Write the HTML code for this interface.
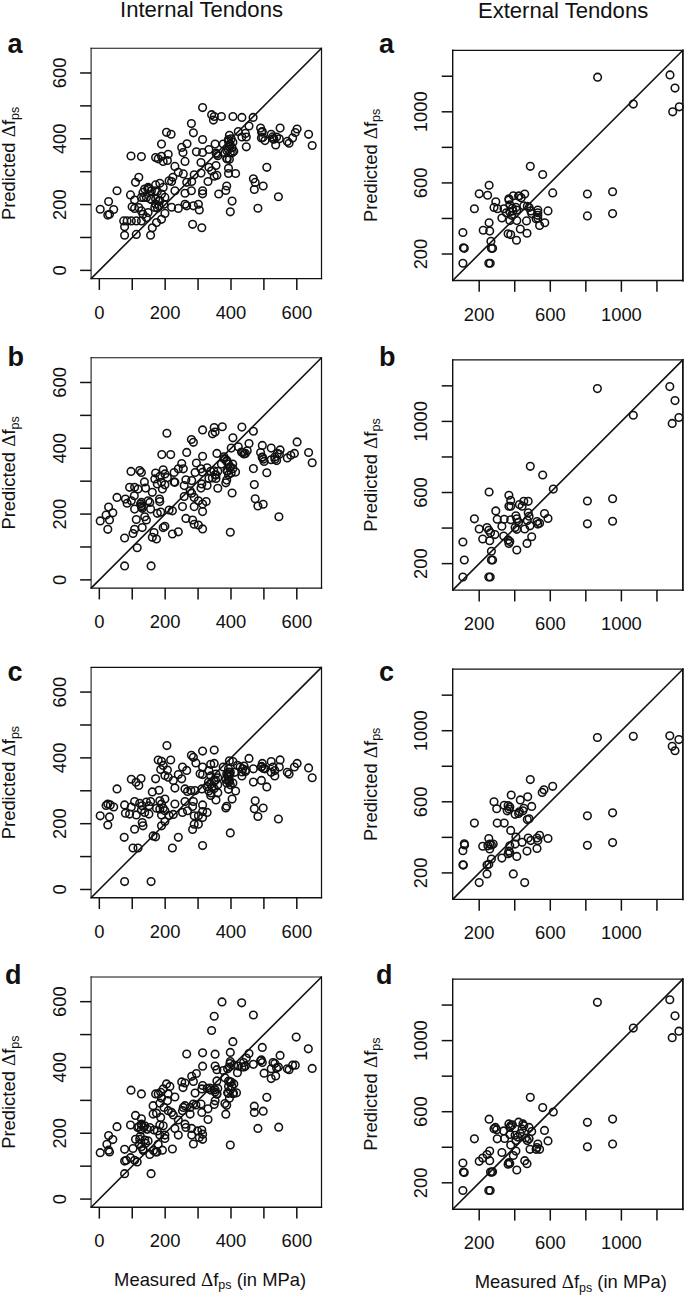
<!DOCTYPE html>
<html><head><meta charset="utf-8"><style>
html,body{margin:0;padding:0;background:#fff;}
body{width:685px;height:1296px;overflow:hidden;}
svg{display:block;}
text{font-family:"Liberation Sans", sans-serif;fill:#111;}
.tl{font-size:18.4px;}
.al{font-size:18.4px;}
.sub{font-size:12.5px;}
.dl{font-family:"Liberation Serif",serif;font-size:19px;}
.ttl{font-size:22.1px;}
.let{font-size:27px;font-weight:bold;}
circle{fill:none;stroke:#111;stroke-width:1.55;}
</style></head><body>
<svg width="685" height="1296" viewBox="0 0 685 1296">
<text x="120.0" y="17.1" class="ttl">Internal Tendons</text>
<text x="477.9" y="18.1" class="ttl">External Tendons</text>
<path d="M91.10,48.30H321.50" stroke="#111" stroke-width="1.1" stroke-linecap="square"/>
<path d="M91.10,278.60H321.50" stroke="#111" stroke-width="1.4" stroke-linecap="square"/>
<path d="M91.10,48.30V278.60" stroke="#111" stroke-width="1.05" stroke-linecap="square"/>
<path d="M321.50,48.30V278.60" stroke="#111" stroke-width="1.25" stroke-linecap="square"/>
<line x1="91.10" y1="278.60" x2="321.50" y2="48.30" stroke="#111" stroke-width="1.6"/>
<line x1="99.33" y1="278.60" x2="99.33" y2="289.90" stroke="#111" stroke-width="1.5"/>
<line x1="132.24" y1="278.60" x2="132.24" y2="289.90" stroke="#111" stroke-width="1.5"/>
<line x1="165.16" y1="278.60" x2="165.16" y2="289.90" stroke="#111" stroke-width="1.5"/>
<line x1="198.07" y1="278.60" x2="198.07" y2="289.90" stroke="#111" stroke-width="1.5"/>
<line x1="230.99" y1="278.60" x2="230.99" y2="289.90" stroke="#111" stroke-width="1.5"/>
<line x1="263.90" y1="278.60" x2="263.90" y2="289.90" stroke="#111" stroke-width="1.5"/>
<line x1="296.81" y1="278.60" x2="296.81" y2="289.90" stroke="#111" stroke-width="1.5"/>
<text x="99.33" y="318.60" text-anchor="middle" class="tl">0</text>
<text x="165.16" y="318.60" text-anchor="middle" class="tl">200</text>
<text x="230.99" y="318.60" text-anchor="middle" class="tl">400</text>
<text x="296.81" y="318.60" text-anchor="middle" class="tl">600</text>
<line x1="80.10" y1="270.38" x2="91.10" y2="270.38" stroke="#111" stroke-width="1.5"/>
<line x1="80.10" y1="237.48" x2="91.10" y2="237.48" stroke="#111" stroke-width="1.5"/>
<line x1="80.10" y1="204.58" x2="91.10" y2="204.58" stroke="#111" stroke-width="1.5"/>
<line x1="80.10" y1="171.68" x2="91.10" y2="171.68" stroke="#111" stroke-width="1.5"/>
<line x1="80.10" y1="138.78" x2="91.10" y2="138.78" stroke="#111" stroke-width="1.5"/>
<line x1="80.10" y1="105.88" x2="91.10" y2="105.88" stroke="#111" stroke-width="1.5"/>
<line x1="80.10" y1="72.98" x2="91.10" y2="72.98" stroke="#111" stroke-width="1.5"/>
<text transform="translate(66.00,270.38) rotate(-90)" text-anchor="middle" class="tl">0</text>
<text transform="translate(66.00,204.58) rotate(-90)" text-anchor="middle" class="tl">200</text>
<text transform="translate(66.00,138.78) rotate(-90)" text-anchor="middle" class="tl">400</text>
<text transform="translate(66.00,72.98) rotate(-90)" text-anchor="middle" class="tl">600</text>
<text transform="translate(15.10,163.45) rotate(-90)" text-anchor="middle" class="al">Predicted <tspan class="dl">Δ</tspan>f<tspan class="sub" dy="3.7">ps</tspan></text>
<circle cx="202.6" cy="107.6" r="3.8"/>
<circle cx="191.4" cy="123.6" r="3.8"/>
<circle cx="193.4" cy="132.8" r="3.8"/>
<circle cx="166.5" cy="132.3" r="3.8"/>
<circle cx="171.1" cy="134.2" r="3.8"/>
<circle cx="202.6" cy="139.5" r="3.8"/>
<circle cx="161.5" cy="144.1" r="3.8"/>
<circle cx="187.0" cy="143.7" r="3.8"/>
<circle cx="181.7" cy="147.4" r="3.8"/>
<circle cx="183.0" cy="152.5" r="3.8"/>
<circle cx="196.4" cy="151.8" r="3.8"/>
<circle cx="202.6" cy="152.5" r="3.8"/>
<circle cx="131.0" cy="156.0" r="3.8"/>
<circle cx="141.4" cy="156.6" r="3.8"/>
<circle cx="155.6" cy="157.5" r="3.8"/>
<circle cx="158.2" cy="158.8" r="3.8"/>
<circle cx="161.5" cy="156.3" r="3.8"/>
<circle cx="168.2" cy="154.3" r="3.8"/>
<circle cx="163.2" cy="161.4" r="3.8"/>
<circle cx="167.4" cy="160.5" r="3.8"/>
<circle cx="185.0" cy="161.4" r="3.8"/>
<circle cx="201.0" cy="162.5" r="3.8"/>
<circle cx="174.9" cy="166.4" r="3.8"/>
<circle cx="178.3" cy="172.3" r="3.8"/>
<circle cx="183.3" cy="173.9" r="3.8"/>
<circle cx="194.2" cy="174.8" r="3.8"/>
<circle cx="201.0" cy="173.1" r="3.8"/>
<circle cx="138.8" cy="177.3" r="3.8"/>
<circle cx="135.5" cy="182.3" r="3.8"/>
<circle cx="169.1" cy="180.7" r="3.8"/>
<circle cx="172.9" cy="177.3" r="3.8"/>
<circle cx="171.6" cy="181.5" r="3.8"/>
<circle cx="186.7" cy="182.3" r="3.8"/>
<circle cx="191.7" cy="181.5" r="3.8"/>
<circle cx="117.0" cy="190.7" r="3.8"/>
<circle cx="130.5" cy="194.9" r="3.8"/>
<circle cx="134.6" cy="200.0" r="3.8"/>
<circle cx="144.7" cy="189.1" r="3.8"/>
<circle cx="148.1" cy="187.4" r="3.8"/>
<circle cx="143.0" cy="192.4" r="3.8"/>
<circle cx="155.6" cy="184.9" r="3.8"/>
<circle cx="159.8" cy="183.2" r="3.8"/>
<circle cx="163.2" cy="187.4" r="3.8"/>
<circle cx="151.4" cy="190.7" r="3.8"/>
<circle cx="157.3" cy="191.6" r="3.8"/>
<circle cx="161.5" cy="194.1" r="3.8"/>
<circle cx="150.6" cy="199.1" r="3.8"/>
<circle cx="155.6" cy="199.1" r="3.8"/>
<circle cx="159.8" cy="200.8" r="3.8"/>
<circle cx="164.9" cy="197.4" r="3.8"/>
<circle cx="141.4" cy="197.4" r="3.8"/>
<circle cx="146.4" cy="197.4" r="3.8"/>
<circle cx="174.9" cy="190.7" r="3.8"/>
<circle cx="185.0" cy="193.2" r="3.8"/>
<circle cx="191.4" cy="190.7" r="3.8"/>
<circle cx="202.6" cy="190.7" r="3.8"/>
<circle cx="202.6" cy="193.8" r="3.8"/>
<circle cx="108.6" cy="201.6" r="3.8"/>
<circle cx="100.2" cy="209.2" r="3.8"/>
<circle cx="113.7" cy="209.5" r="3.8"/>
<circle cx="107.8" cy="215.1" r="3.8"/>
<circle cx="109.5" cy="214.2" r="3.8"/>
<circle cx="132.1" cy="206.7" r="3.8"/>
<circle cx="134.6" cy="208.4" r="3.8"/>
<circle cx="138.8" cy="207.5" r="3.8"/>
<circle cx="141.4" cy="210.9" r="3.8"/>
<circle cx="143.0" cy="214.2" r="3.8"/>
<circle cx="148.1" cy="212.6" r="3.8"/>
<circle cx="146.4" cy="217.6" r="3.8"/>
<circle cx="154.8" cy="207.5" r="3.8"/>
<circle cx="159.0" cy="205.8" r="3.8"/>
<circle cx="164.0" cy="204.2" r="3.8"/>
<circle cx="171.6" cy="207.2" r="3.8"/>
<circle cx="178.3" cy="208.4" r="3.8"/>
<circle cx="185.0" cy="204.2" r="3.8"/>
<circle cx="186.7" cy="205.8" r="3.8"/>
<circle cx="193.4" cy="205.8" r="3.8"/>
<circle cx="198.4" cy="204.2" r="3.8"/>
<circle cx="199.3" cy="210.0" r="3.8"/>
<circle cx="123.7" cy="220.9" r="3.8"/>
<circle cx="127.1" cy="220.9" r="3.8"/>
<circle cx="131.3" cy="220.9" r="3.8"/>
<circle cx="136.3" cy="220.9" r="3.8"/>
<circle cx="141.4" cy="220.9" r="3.8"/>
<circle cx="124.6" cy="226.8" r="3.8"/>
<circle cx="164.9" cy="213.4" r="3.8"/>
<circle cx="161.5" cy="219.3" r="3.8"/>
<circle cx="156.5" cy="222.6" r="3.8"/>
<circle cx="152.3" cy="227.7" r="3.8"/>
<circle cx="124.6" cy="235.2" r="3.8"/>
<circle cx="136.3" cy="234.4" r="3.8"/>
<circle cx="150.6" cy="235.2" r="3.8"/>
<circle cx="192.6" cy="224.3" r="3.8"/>
<circle cx="201.8" cy="227.7" r="3.8"/>
<circle cx="211.6" cy="114.7" r="3.8"/>
<circle cx="214.2" cy="116.5" r="3.8"/>
<circle cx="213.4" cy="120.1" r="3.8"/>
<circle cx="221.4" cy="116.5" r="3.8"/>
<circle cx="232.9" cy="116.5" r="3.8"/>
<circle cx="241.9" cy="117.4" r="3.8"/>
<circle cx="253.1" cy="117.4" r="3.8"/>
<circle cx="249.0" cy="126.0" r="3.8"/>
<circle cx="238.3" cy="131.6" r="3.8"/>
<circle cx="245.4" cy="133.4" r="3.8"/>
<circle cx="241.9" cy="137.0" r="3.8"/>
<circle cx="246.3" cy="137.0" r="3.8"/>
<circle cx="229.4" cy="135.2" r="3.8"/>
<circle cx="231.2" cy="138.8" r="3.8"/>
<circle cx="228.5" cy="141.4" r="3.8"/>
<circle cx="232.9" cy="142.3" r="3.8"/>
<circle cx="229.4" cy="145.9" r="3.8"/>
<circle cx="232.1" cy="147.7" r="3.8"/>
<circle cx="226.7" cy="150.4" r="3.8"/>
<circle cx="233.8" cy="151.2" r="3.8"/>
<circle cx="230.3" cy="153.0" r="3.8"/>
<circle cx="224.9" cy="153.0" r="3.8"/>
<circle cx="226.7" cy="158.4" r="3.8"/>
<circle cx="229.4" cy="159.3" r="3.8"/>
<circle cx="223.2" cy="144.1" r="3.8"/>
<circle cx="215.1" cy="144.1" r="3.8"/>
<circle cx="208.9" cy="149.5" r="3.8"/>
<circle cx="216.0" cy="153.0" r="3.8"/>
<circle cx="217.8" cy="155.7" r="3.8"/>
<circle cx="246.3" cy="146.8" r="3.8"/>
<circle cx="260.6" cy="128.1" r="3.8"/>
<circle cx="262.3" cy="131.6" r="3.8"/>
<circle cx="261.4" cy="137.9" r="3.8"/>
<circle cx="265.0" cy="140.6" r="3.8"/>
<circle cx="271.2" cy="134.3" r="3.8"/>
<circle cx="273.0" cy="138.8" r="3.8"/>
<circle cx="276.6" cy="137.0" r="3.8"/>
<circle cx="279.3" cy="138.8" r="3.8"/>
<circle cx="275.7" cy="145.0" r="3.8"/>
<circle cx="280.1" cy="128.1" r="3.8"/>
<circle cx="287.3" cy="141.4" r="3.8"/>
<circle cx="289.1" cy="143.2" r="3.8"/>
<circle cx="292.6" cy="137.9" r="3.8"/>
<circle cx="295.3" cy="132.5" r="3.8"/>
<circle cx="297.1" cy="129.0" r="3.8"/>
<circle cx="308.6" cy="134.3" r="3.8"/>
<circle cx="312.2" cy="145.5" r="3.8"/>
<circle cx="266.8" cy="167.3" r="3.8"/>
<circle cx="228.5" cy="168.2" r="3.8"/>
<circle cx="228.5" cy="173.5" r="3.8"/>
<circle cx="235.6" cy="173.5" r="3.8"/>
<circle cx="216.0" cy="165.5" r="3.8"/>
<circle cx="208.9" cy="167.3" r="3.8"/>
<circle cx="211.6" cy="170.8" r="3.8"/>
<circle cx="216.9" cy="175.3" r="3.8"/>
<circle cx="214.2" cy="176.2" r="3.8"/>
<circle cx="208.0" cy="181.5" r="3.8"/>
<circle cx="253.4" cy="178.8" r="3.8"/>
<circle cx="255.2" cy="182.4" r="3.8"/>
<circle cx="263.2" cy="186.0" r="3.8"/>
<circle cx="254.3" cy="189.5" r="3.8"/>
<circle cx="226.7" cy="186.0" r="3.8"/>
<circle cx="225.8" cy="190.4" r="3.8"/>
<circle cx="218.7" cy="194.0" r="3.8"/>
<circle cx="232.1" cy="201.1" r="3.8"/>
<circle cx="278.4" cy="196.7" r="3.8"/>
<circle cx="257.9" cy="208.2" r="3.8"/>
<circle cx="230.3" cy="211.8" r="3.8"/>
<circle cx="147.8" cy="188.7" r="3.8"/>
<circle cx="149.3" cy="188.4" r="3.8"/>
<circle cx="151.3" cy="199.4" r="3.8"/>
<circle cx="155.4" cy="190.7" r="3.8"/>
<circle cx="159.5" cy="200.4" r="3.8"/>
<circle cx="155.4" cy="204.0" r="3.8"/>
<circle cx="143.7" cy="197.4" r="3.8"/>
<circle cx="157.5" cy="208.1" r="3.8"/>
<circle cx="228.4" cy="139.6" r="3.8"/>
<circle cx="230.1" cy="144.3" r="3.8"/>
<circle cx="228.4" cy="149.5" r="3.8"/>
<circle cx="232.4" cy="152.4" r="3.8"/>
<circle cx="216.7" cy="154.2" r="3.8"/>
<circle cx="227.2" cy="158.9" r="3.8"/>
<circle cx="261.6" cy="132.2" r="3.8"/>
<circle cx="262.8" cy="137.4" r="3.8"/>
<circle cx="273.9" cy="139.2" r="3.8"/>
<circle cx="272.7" cy="136.9" r="3.8"/>
<path d="M452.70,50.30H682.90" stroke="#111" stroke-width="1.25" stroke-linecap="square"/>
<path d="M452.70,280.50H682.90" stroke="#111" stroke-width="1.4" stroke-linecap="square"/>
<path d="M452.70,50.30V280.50" stroke="#111" stroke-width="1.4" stroke-linecap="square"/>
<path d="M682.90,50.30V280.50" stroke="#111" stroke-width="1.75" stroke-linecap="square"/>
<line x1="452.70" y1="280.50" x2="682.90" y2="50.30" stroke="#111" stroke-width="1.6"/>
<line x1="479.19" y1="280.50" x2="479.19" y2="291.80" stroke="#111" stroke-width="1.5"/>
<line x1="514.74" y1="280.50" x2="514.74" y2="291.80" stroke="#111" stroke-width="1.5"/>
<line x1="550.29" y1="280.50" x2="550.29" y2="291.80" stroke="#111" stroke-width="1.5"/>
<line x1="585.84" y1="280.50" x2="585.84" y2="291.80" stroke="#111" stroke-width="1.5"/>
<line x1="621.39" y1="280.50" x2="621.39" y2="291.80" stroke="#111" stroke-width="1.5"/>
<line x1="656.95" y1="280.50" x2="656.95" y2="291.80" stroke="#111" stroke-width="1.5"/>
<text x="479.19" y="320.50" text-anchor="middle" class="tl">200</text>
<text x="550.29" y="320.50" text-anchor="middle" class="tl">600</text>
<text x="621.39" y="320.50" text-anchor="middle" class="tl">1000</text>
<line x1="441.70" y1="254.01" x2="452.70" y2="254.01" stroke="#111" stroke-width="1.5"/>
<line x1="441.70" y1="218.46" x2="452.70" y2="218.46" stroke="#111" stroke-width="1.5"/>
<line x1="441.70" y1="182.91" x2="452.70" y2="182.91" stroke="#111" stroke-width="1.5"/>
<line x1="441.70" y1="147.36" x2="452.70" y2="147.36" stroke="#111" stroke-width="1.5"/>
<line x1="441.70" y1="111.81" x2="452.70" y2="111.81" stroke="#111" stroke-width="1.5"/>
<line x1="441.70" y1="76.25" x2="452.70" y2="76.25" stroke="#111" stroke-width="1.5"/>
<text transform="translate(427.00,254.01) rotate(-90)" text-anchor="middle" class="tl">200</text>
<text transform="translate(427.00,182.91) rotate(-90)" text-anchor="middle" class="tl">600</text>
<text transform="translate(427.00,111.81) rotate(-90)" text-anchor="middle" class="tl">1000</text>
<text transform="translate(376.70,165.40) rotate(-90)" text-anchor="middle" class="al">Predicted <tspan class="dl">Δ</tspan>f<tspan class="sub" dy="3.7">ps</tspan></text>
<circle cx="530.3" cy="166.3" r="3.8"/>
<circle cx="542.7" cy="174.5" r="3.8"/>
<circle cx="552.7" cy="192.9" r="3.8"/>
<circle cx="489.1" cy="185.2" r="3.8"/>
<circle cx="479.2" cy="193.8" r="3.8"/>
<circle cx="487.6" cy="195.2" r="3.8"/>
<circle cx="495.8" cy="201.7" r="3.8"/>
<circle cx="494.0" cy="207.4" r="3.8"/>
<circle cx="497.5" cy="208.7" r="3.8"/>
<circle cx="474.4" cy="208.7" r="3.8"/>
<circle cx="504.0" cy="208.7" r="3.8"/>
<circle cx="508.9" cy="198.7" r="3.8"/>
<circle cx="513.3" cy="195.7" r="3.8"/>
<circle cx="518.6" cy="196.1" r="3.8"/>
<circle cx="521.2" cy="197.8" r="3.8"/>
<circle cx="524.7" cy="194.0" r="3.8"/>
<circle cx="509.8" cy="204.8" r="3.8"/>
<circle cx="512.4" cy="208.3" r="3.8"/>
<circle cx="515.9" cy="207.4" r="3.8"/>
<circle cx="516.8" cy="210.1" r="3.8"/>
<circle cx="509.8" cy="211.8" r="3.8"/>
<circle cx="511.6" cy="215.3" r="3.8"/>
<circle cx="506.3" cy="212.7" r="3.8"/>
<circle cx="501.9" cy="218.0" r="3.8"/>
<circle cx="516.8" cy="220.6" r="3.8"/>
<circle cx="509.8" cy="220.6" r="3.8"/>
<circle cx="523.8" cy="205.7" r="3.8"/>
<circle cx="527.3" cy="206.2" r="3.8"/>
<circle cx="529.1" cy="207.4" r="3.8"/>
<circle cx="530.8" cy="210.9" r="3.8"/>
<circle cx="531.7" cy="213.6" r="3.8"/>
<circle cx="537.8" cy="210.1" r="3.8"/>
<circle cx="537.8" cy="212.7" r="3.8"/>
<circle cx="537.8" cy="215.3" r="3.8"/>
<circle cx="537.8" cy="218.0" r="3.8"/>
<circle cx="536.1" cy="218.8" r="3.8"/>
<circle cx="548.0" cy="210.9" r="3.8"/>
<circle cx="544.8" cy="222.7" r="3.8"/>
<circle cx="539.6" cy="225.5" r="3.8"/>
<circle cx="526.5" cy="220.9" r="3.8"/>
<circle cx="520.3" cy="229.0" r="3.8"/>
<circle cx="527.0" cy="233.2" r="3.8"/>
<circle cx="508.1" cy="233.7" r="3.8"/>
<circle cx="510.7" cy="234.6" r="3.8"/>
<circle cx="516.5" cy="240.2" r="3.8"/>
<circle cx="489.1" cy="222.7" r="3.8"/>
<circle cx="483.2" cy="230.2" r="3.8"/>
<circle cx="489.7" cy="231.1" r="3.8"/>
<circle cx="490.9" cy="241.3" r="3.8"/>
<circle cx="462.9" cy="232.5" r="3.8"/>
<circle cx="464.3" cy="248.3" r="3.8"/>
<circle cx="463.4" cy="247.7" r="3.8"/>
<circle cx="491.4" cy="248.3" r="3.8"/>
<circle cx="492.6" cy="248.3" r="3.8"/>
<circle cx="462.9" cy="263.2" r="3.8"/>
<circle cx="488.8" cy="263.2" r="3.8"/>
<circle cx="490.2" cy="263.2" r="3.8"/>
<circle cx="587.4" cy="194.0" r="3.8"/>
<circle cx="612.6" cy="191.7" r="3.8"/>
<circle cx="587.4" cy="215.9" r="3.8"/>
<circle cx="612.6" cy="213.6" r="3.8"/>
<circle cx="597.6" cy="77.2" r="3.8"/>
<circle cx="633.3" cy="104.1" r="3.8"/>
<circle cx="670.0" cy="74.9" r="3.8"/>
<circle cx="675.0" cy="88.1" r="3.8"/>
<circle cx="679.3" cy="106.8" r="3.8"/>
<circle cx="672.7" cy="111.8" r="3.8"/>
<circle cx="509.0" cy="200.0" r="3.8"/>
<circle cx="519.0" cy="196.0" r="3.8"/>
<circle cx="513.0" cy="211.0" r="3.8"/>
<path d="M91.10,357.80H321.50" stroke="#111" stroke-width="1.1" stroke-linecap="square"/>
<path d="M91.10,588.10H321.50" stroke="#111" stroke-width="1.4" stroke-linecap="square"/>
<path d="M91.10,357.80V588.10" stroke="#111" stroke-width="1.05" stroke-linecap="square"/>
<path d="M321.50,357.80V588.10" stroke="#111" stroke-width="1.25" stroke-linecap="square"/>
<line x1="91.10" y1="588.10" x2="321.50" y2="357.80" stroke="#111" stroke-width="1.6"/>
<line x1="99.33" y1="588.10" x2="99.33" y2="599.40" stroke="#111" stroke-width="1.5"/>
<line x1="132.24" y1="588.10" x2="132.24" y2="599.40" stroke="#111" stroke-width="1.5"/>
<line x1="165.16" y1="588.10" x2="165.16" y2="599.40" stroke="#111" stroke-width="1.5"/>
<line x1="198.07" y1="588.10" x2="198.07" y2="599.40" stroke="#111" stroke-width="1.5"/>
<line x1="230.99" y1="588.10" x2="230.99" y2="599.40" stroke="#111" stroke-width="1.5"/>
<line x1="263.90" y1="588.10" x2="263.90" y2="599.40" stroke="#111" stroke-width="1.5"/>
<line x1="296.81" y1="588.10" x2="296.81" y2="599.40" stroke="#111" stroke-width="1.5"/>
<text x="99.33" y="628.10" text-anchor="middle" class="tl">0</text>
<text x="165.16" y="628.10" text-anchor="middle" class="tl">200</text>
<text x="230.99" y="628.10" text-anchor="middle" class="tl">400</text>
<text x="296.81" y="628.10" text-anchor="middle" class="tl">600</text>
<line x1="80.10" y1="579.88" x2="91.10" y2="579.88" stroke="#111" stroke-width="1.5"/>
<line x1="80.10" y1="546.98" x2="91.10" y2="546.98" stroke="#111" stroke-width="1.5"/>
<line x1="80.10" y1="514.08" x2="91.10" y2="514.08" stroke="#111" stroke-width="1.5"/>
<line x1="80.10" y1="481.18" x2="91.10" y2="481.18" stroke="#111" stroke-width="1.5"/>
<line x1="80.10" y1="448.27" x2="91.10" y2="448.27" stroke="#111" stroke-width="1.5"/>
<line x1="80.10" y1="415.38" x2="91.10" y2="415.38" stroke="#111" stroke-width="1.5"/>
<line x1="80.10" y1="382.48" x2="91.10" y2="382.48" stroke="#111" stroke-width="1.5"/>
<text transform="translate(66.00,579.88) rotate(-90)" text-anchor="middle" class="tl">0</text>
<text transform="translate(66.00,514.08) rotate(-90)" text-anchor="middle" class="tl">200</text>
<text transform="translate(66.00,448.27) rotate(-90)" text-anchor="middle" class="tl">400</text>
<text transform="translate(66.00,382.48) rotate(-90)" text-anchor="middle" class="tl">600</text>
<text transform="translate(15.10,472.95) rotate(-90)" text-anchor="middle" class="al">Predicted <tspan class="dl">Δ</tspan>f<tspan class="sub" dy="3.7">ps</tspan></text>
<circle cx="202.6" cy="429.9" r="3.8"/>
<circle cx="166.9" cy="433.2" r="3.8"/>
<circle cx="191.4" cy="439.5" r="3.8"/>
<circle cx="193.4" cy="442.3" r="3.8"/>
<circle cx="161.8" cy="454.6" r="3.8"/>
<circle cx="170.7" cy="454.6" r="3.8"/>
<circle cx="186.7" cy="452.4" r="3.8"/>
<circle cx="202.6" cy="456.2" r="3.8"/>
<circle cx="181.7" cy="463.5" r="3.8"/>
<circle cx="178.3" cy="468.8" r="3.8"/>
<circle cx="183.3" cy="468.8" r="3.8"/>
<circle cx="174.1" cy="472.5" r="3.8"/>
<circle cx="196.4" cy="463.0" r="3.8"/>
<circle cx="195.1" cy="472.5" r="3.8"/>
<circle cx="201.0" cy="468.8" r="3.8"/>
<circle cx="202.6" cy="472.2" r="3.8"/>
<circle cx="131.0" cy="471.4" r="3.8"/>
<circle cx="139.7" cy="470.5" r="3.8"/>
<circle cx="141.4" cy="472.5" r="3.8"/>
<circle cx="155.6" cy="473.0" r="3.8"/>
<circle cx="163.2" cy="469.7" r="3.8"/>
<circle cx="164.9" cy="473.9" r="3.8"/>
<circle cx="159.8" cy="476.4" r="3.8"/>
<circle cx="167.4" cy="477.6" r="3.8"/>
<circle cx="174.1" cy="481.9" r="3.8"/>
<circle cx="174.9" cy="482.3" r="3.8"/>
<circle cx="154.8" cy="478.9" r="3.8"/>
<circle cx="157.3" cy="483.9" r="3.8"/>
<circle cx="161.5" cy="482.3" r="3.8"/>
<circle cx="164.9" cy="484.8" r="3.8"/>
<circle cx="162.4" cy="489.0" r="3.8"/>
<circle cx="144.4" cy="481.9" r="3.8"/>
<circle cx="145.6" cy="488.1" r="3.8"/>
<circle cx="152.3" cy="492.3" r="3.8"/>
<circle cx="129.6" cy="487.3" r="3.8"/>
<circle cx="134.6" cy="487.3" r="3.8"/>
<circle cx="138.0" cy="489.0" r="3.8"/>
<circle cx="185.9" cy="479.7" r="3.8"/>
<circle cx="191.7" cy="480.6" r="3.8"/>
<circle cx="184.2" cy="485.6" r="3.8"/>
<circle cx="190.1" cy="490.7" r="3.8"/>
<circle cx="201.0" cy="488.1" r="3.8"/>
<circle cx="201.8" cy="483.9" r="3.8"/>
<circle cx="117.0" cy="497.4" r="3.8"/>
<circle cx="125.4" cy="499.1" r="3.8"/>
<circle cx="127.1" cy="503.2" r="3.8"/>
<circle cx="131.3" cy="500.7" r="3.8"/>
<circle cx="134.3" cy="495.7" r="3.8"/>
<circle cx="141.4" cy="502.4" r="3.8"/>
<circle cx="141.4" cy="505.8" r="3.8"/>
<circle cx="142.2" cy="508.3" r="3.8"/>
<circle cx="148.1" cy="500.7" r="3.8"/>
<circle cx="149.8" cy="502.4" r="3.8"/>
<circle cx="159.5" cy="499.1" r="3.8"/>
<circle cx="159.8" cy="501.6" r="3.8"/>
<circle cx="134.6" cy="509.1" r="3.8"/>
<circle cx="150.6" cy="509.1" r="3.8"/>
<circle cx="157.3" cy="513.3" r="3.8"/>
<circle cx="160.7" cy="512.1" r="3.8"/>
<circle cx="169.1" cy="510.0" r="3.8"/>
<circle cx="172.4" cy="510.8" r="3.8"/>
<circle cx="184.2" cy="496.5" r="3.8"/>
<circle cx="191.7" cy="493.2" r="3.8"/>
<circle cx="194.2" cy="497.4" r="3.8"/>
<circle cx="198.4" cy="500.7" r="3.8"/>
<circle cx="202.6" cy="504.1" r="3.8"/>
<circle cx="182.5" cy="506.6" r="3.8"/>
<circle cx="194.2" cy="506.6" r="3.8"/>
<circle cx="202.6" cy="511.6" r="3.8"/>
<circle cx="108.6" cy="507.1" r="3.8"/>
<circle cx="106.1" cy="515.0" r="3.8"/>
<circle cx="112.8" cy="512.8" r="3.8"/>
<circle cx="100.2" cy="520.9" r="3.8"/>
<circle cx="109.5" cy="520.0" r="3.8"/>
<circle cx="107.8" cy="529.3" r="3.8"/>
<circle cx="136.3" cy="519.5" r="3.8"/>
<circle cx="144.7" cy="516.7" r="3.8"/>
<circle cx="146.4" cy="520.0" r="3.8"/>
<circle cx="185.9" cy="518.4" r="3.8"/>
<circle cx="192.6" cy="520.0" r="3.8"/>
<circle cx="194.2" cy="524.2" r="3.8"/>
<circle cx="198.4" cy="525.1" r="3.8"/>
<circle cx="202.6" cy="528.9" r="3.8"/>
<circle cx="142.2" cy="527.6" r="3.8"/>
<circle cx="134.6" cy="529.3" r="3.8"/>
<circle cx="133.0" cy="533.5" r="3.8"/>
<circle cx="163.2" cy="527.6" r="3.8"/>
<circle cx="164.9" cy="526.2" r="3.8"/>
<circle cx="154.0" cy="532.6" r="3.8"/>
<circle cx="152.3" cy="537.3" r="3.8"/>
<circle cx="156.5" cy="539.0" r="3.8"/>
<circle cx="172.4" cy="534.0" r="3.8"/>
<circle cx="178.3" cy="531.8" r="3.8"/>
<circle cx="124.6" cy="538.0" r="3.8"/>
<circle cx="137.2" cy="547.7" r="3.8"/>
<circle cx="124.6" cy="565.9" r="3.8"/>
<circle cx="151.1" cy="565.9" r="3.8"/>
<circle cx="214.2" cy="427.6" r="3.8"/>
<circle cx="222.3" cy="426.7" r="3.8"/>
<circle cx="212.5" cy="433.8" r="3.8"/>
<circle cx="215.1" cy="432.1" r="3.8"/>
<circle cx="241.9" cy="427.1" r="3.8"/>
<circle cx="253.4" cy="431.2" r="3.8"/>
<circle cx="232.9" cy="437.8" r="3.8"/>
<circle cx="231.2" cy="448.1" r="3.8"/>
<circle cx="238.3" cy="446.7" r="3.8"/>
<circle cx="249.0" cy="443.6" r="3.8"/>
<circle cx="242.7" cy="452.5" r="3.8"/>
<circle cx="245.4" cy="453.4" r="3.8"/>
<circle cx="247.2" cy="450.8" r="3.8"/>
<circle cx="262.3" cy="445.4" r="3.8"/>
<circle cx="271.2" cy="448.1" r="3.8"/>
<circle cx="280.1" cy="449.9" r="3.8"/>
<circle cx="260.6" cy="452.5" r="3.8"/>
<circle cx="262.3" cy="457.0" r="3.8"/>
<circle cx="264.1" cy="461.4" r="3.8"/>
<circle cx="271.2" cy="459.7" r="3.8"/>
<circle cx="274.8" cy="457.0" r="3.8"/>
<circle cx="276.6" cy="460.6" r="3.8"/>
<circle cx="279.3" cy="454.3" r="3.8"/>
<circle cx="287.3" cy="457.9" r="3.8"/>
<circle cx="290.8" cy="455.2" r="3.8"/>
<circle cx="294.4" cy="453.4" r="3.8"/>
<circle cx="297.1" cy="441.9" r="3.8"/>
<circle cx="308.6" cy="452.5" r="3.8"/>
<circle cx="312.2" cy="462.7" r="3.8"/>
<circle cx="216.9" cy="453.4" r="3.8"/>
<circle cx="224.0" cy="458.8" r="3.8"/>
<circle cx="226.7" cy="461.4" r="3.8"/>
<circle cx="228.5" cy="464.1" r="3.8"/>
<circle cx="230.3" cy="466.8" r="3.8"/>
<circle cx="232.9" cy="468.6" r="3.8"/>
<circle cx="227.6" cy="471.2" r="3.8"/>
<circle cx="235.6" cy="472.1" r="3.8"/>
<circle cx="231.2" cy="473.0" r="3.8"/>
<circle cx="228.5" cy="474.8" r="3.8"/>
<circle cx="221.4" cy="464.1" r="3.8"/>
<circle cx="217.8" cy="471.2" r="3.8"/>
<circle cx="215.1" cy="474.8" r="3.8"/>
<circle cx="216.0" cy="478.4" r="3.8"/>
<circle cx="210.7" cy="471.2" r="3.8"/>
<circle cx="207.1" cy="467.7" r="3.8"/>
<circle cx="208.9" cy="478.4" r="3.8"/>
<circle cx="207.1" cy="485.5" r="3.8"/>
<circle cx="217.8" cy="488.2" r="3.8"/>
<circle cx="225.8" cy="482.8" r="3.8"/>
<circle cx="226.7" cy="480.1" r="3.8"/>
<circle cx="253.4" cy="468.6" r="3.8"/>
<circle cx="266.8" cy="472.7" r="3.8"/>
<circle cx="254.3" cy="484.6" r="3.8"/>
<circle cx="232.1" cy="493.0" r="3.8"/>
<circle cx="255.2" cy="498.8" r="3.8"/>
<circle cx="257.9" cy="506.0" r="3.8"/>
<circle cx="263.2" cy="504.2" r="3.8"/>
<circle cx="206.2" cy="501.5" r="3.8"/>
<circle cx="278.9" cy="516.7" r="3.8"/>
<circle cx="230.3" cy="532.2" r="3.8"/>
<circle cx="226.9" cy="460.4" r="3.8"/>
<circle cx="229.8" cy="467.7" r="3.8"/>
<circle cx="232.7" cy="464.1" r="3.8"/>
<circle cx="226.9" cy="470.7" r="3.8"/>
<circle cx="216.0" cy="475.0" r="3.8"/>
<circle cx="213.8" cy="470.7" r="3.8"/>
<circle cx="212.3" cy="478.0" r="3.8"/>
<circle cx="224.0" cy="456.8" r="3.8"/>
<circle cx="241.5" cy="452.0" r="3.8"/>
<circle cx="244.0" cy="454.0" r="3.8"/>
<circle cx="140.5" cy="504.0" r="3.8"/>
<circle cx="141.5" cy="507.0" r="3.8"/>
<circle cx="262.2" cy="457.4" r="3.8"/>
<circle cx="263.4" cy="459.2" r="3.8"/>
<circle cx="275.0" cy="459.2" r="3.8"/>
<circle cx="277.4" cy="453.4" r="3.8"/>
<path d="M452.70,359.90H682.90" stroke="#111" stroke-width="1.25" stroke-linecap="square"/>
<path d="M452.70,590.10H682.90" stroke="#111" stroke-width="1.4" stroke-linecap="square"/>
<path d="M452.70,359.90V590.10" stroke="#111" stroke-width="1.4" stroke-linecap="square"/>
<path d="M682.90,359.90V590.10" stroke="#111" stroke-width="1.75" stroke-linecap="square"/>
<line x1="452.70" y1="590.10" x2="682.90" y2="359.90" stroke="#111" stroke-width="1.6"/>
<line x1="479.19" y1="590.10" x2="479.19" y2="601.40" stroke="#111" stroke-width="1.5"/>
<line x1="514.74" y1="590.10" x2="514.74" y2="601.40" stroke="#111" stroke-width="1.5"/>
<line x1="550.29" y1="590.10" x2="550.29" y2="601.40" stroke="#111" stroke-width="1.5"/>
<line x1="585.84" y1="590.10" x2="585.84" y2="601.40" stroke="#111" stroke-width="1.5"/>
<line x1="621.39" y1="590.10" x2="621.39" y2="601.40" stroke="#111" stroke-width="1.5"/>
<line x1="656.95" y1="590.10" x2="656.95" y2="601.40" stroke="#111" stroke-width="1.5"/>
<text x="479.19" y="630.10" text-anchor="middle" class="tl">200</text>
<text x="550.29" y="630.10" text-anchor="middle" class="tl">600</text>
<text x="621.39" y="630.10" text-anchor="middle" class="tl">1000</text>
<line x1="441.70" y1="563.61" x2="452.70" y2="563.61" stroke="#111" stroke-width="1.5"/>
<line x1="441.70" y1="528.06" x2="452.70" y2="528.06" stroke="#111" stroke-width="1.5"/>
<line x1="441.70" y1="492.51" x2="452.70" y2="492.51" stroke="#111" stroke-width="1.5"/>
<line x1="441.70" y1="456.96" x2="452.70" y2="456.96" stroke="#111" stroke-width="1.5"/>
<line x1="441.70" y1="421.41" x2="452.70" y2="421.41" stroke="#111" stroke-width="1.5"/>
<line x1="441.70" y1="385.85" x2="452.70" y2="385.85" stroke="#111" stroke-width="1.5"/>
<text transform="translate(427.00,563.61) rotate(-90)" text-anchor="middle" class="tl">200</text>
<text transform="translate(427.00,492.51) rotate(-90)" text-anchor="middle" class="tl">600</text>
<text transform="translate(427.00,421.41) rotate(-90)" text-anchor="middle" class="tl">1000</text>
<text transform="translate(376.70,475.00) rotate(-90)" text-anchor="middle" class="al">Predicted <tspan class="dl">Δ</tspan>f<tspan class="sub" dy="3.7">ps</tspan></text>
<circle cx="530.3" cy="466.3" r="3.8"/>
<circle cx="542.7" cy="475.0" r="3.8"/>
<circle cx="553.3" cy="489.1" r="3.8"/>
<circle cx="489.1" cy="492.0" r="3.8"/>
<circle cx="508.9" cy="495.2" r="3.8"/>
<circle cx="510.7" cy="500.4" r="3.8"/>
<circle cx="508.9" cy="506.2" r="3.8"/>
<circle cx="510.7" cy="506.2" r="3.8"/>
<circle cx="519.4" cy="504.5" r="3.8"/>
<circle cx="522.1" cy="506.2" r="3.8"/>
<circle cx="523.8" cy="501.3" r="3.8"/>
<circle cx="528.2" cy="501.3" r="3.8"/>
<circle cx="495.8" cy="510.9" r="3.8"/>
<circle cx="474.4" cy="518.8" r="3.8"/>
<circle cx="497.2" cy="519.2" r="3.8"/>
<circle cx="504.2" cy="519.2" r="3.8"/>
<circle cx="510.7" cy="519.7" r="3.8"/>
<circle cx="515.9" cy="515.7" r="3.8"/>
<circle cx="516.8" cy="518.8" r="3.8"/>
<circle cx="518.6" cy="522.3" r="3.8"/>
<circle cx="528.2" cy="512.7" r="3.8"/>
<circle cx="529.1" cy="516.2" r="3.8"/>
<circle cx="527.3" cy="520.6" r="3.8"/>
<circle cx="537.0" cy="521.5" r="3.8"/>
<circle cx="537.8" cy="524.1" r="3.8"/>
<circle cx="539.6" cy="523.2" r="3.8"/>
<circle cx="544.5" cy="513.6" r="3.8"/>
<circle cx="548.0" cy="518.5" r="3.8"/>
<circle cx="501.9" cy="526.2" r="3.8"/>
<circle cx="479.2" cy="529.0" r="3.8"/>
<circle cx="487.0" cy="527.6" r="3.8"/>
<circle cx="488.8" cy="530.2" r="3.8"/>
<circle cx="490.5" cy="532.8" r="3.8"/>
<circle cx="494.9" cy="534.6" r="3.8"/>
<circle cx="515.1" cy="527.6" r="3.8"/>
<circle cx="516.8" cy="529.3" r="3.8"/>
<circle cx="524.7" cy="529.0" r="3.8"/>
<circle cx="530.0" cy="525.8" r="3.8"/>
<circle cx="482.7" cy="539.0" r="3.8"/>
<circle cx="489.7" cy="540.7" r="3.8"/>
<circle cx="503.7" cy="536.0" r="3.8"/>
<circle cx="508.1" cy="539.9" r="3.8"/>
<circle cx="508.9" cy="543.4" r="3.8"/>
<circle cx="509.8" cy="541.6" r="3.8"/>
<circle cx="516.8" cy="550.0" r="3.8"/>
<circle cx="531.7" cy="536.7" r="3.8"/>
<circle cx="527.0" cy="543.4" r="3.8"/>
<circle cx="462.9" cy="542.0" r="3.8"/>
<circle cx="491.4" cy="551.2" r="3.8"/>
<circle cx="464.3" cy="560.0" r="3.8"/>
<circle cx="491.4" cy="560.0" r="3.8"/>
<circle cx="492.6" cy="560.0" r="3.8"/>
<circle cx="462.9" cy="577.0" r="3.8"/>
<circle cx="488.8" cy="577.0" r="3.8"/>
<circle cx="490.2" cy="577.0" r="3.8"/>
<circle cx="597.4" cy="388.6" r="3.8"/>
<circle cx="633.3" cy="415.2" r="3.8"/>
<circle cx="669.8" cy="386.6" r="3.8"/>
<circle cx="675.0" cy="400.6" r="3.8"/>
<circle cx="678.9" cy="417.5" r="3.8"/>
<circle cx="672.2" cy="423.4" r="3.8"/>
<circle cx="587.4" cy="501.0" r="3.8"/>
<circle cx="612.6" cy="498.7" r="3.8"/>
<circle cx="587.4" cy="523.8" r="3.8"/>
<circle cx="612.6" cy="521.2" r="3.8"/>
<path d="M91.10,667.40H321.50" stroke="#111" stroke-width="1.1" stroke-linecap="square"/>
<path d="M91.10,897.70H321.50" stroke="#111" stroke-width="1.4" stroke-linecap="square"/>
<path d="M91.10,667.40V897.70" stroke="#111" stroke-width="1.05" stroke-linecap="square"/>
<path d="M321.50,667.40V897.70" stroke="#111" stroke-width="1.25" stroke-linecap="square"/>
<line x1="91.10" y1="897.70" x2="321.50" y2="667.40" stroke="#111" stroke-width="1.6"/>
<line x1="99.33" y1="897.70" x2="99.33" y2="909.00" stroke="#111" stroke-width="1.5"/>
<line x1="132.24" y1="897.70" x2="132.24" y2="909.00" stroke="#111" stroke-width="1.5"/>
<line x1="165.16" y1="897.70" x2="165.16" y2="909.00" stroke="#111" stroke-width="1.5"/>
<line x1="198.07" y1="897.70" x2="198.07" y2="909.00" stroke="#111" stroke-width="1.5"/>
<line x1="230.99" y1="897.70" x2="230.99" y2="909.00" stroke="#111" stroke-width="1.5"/>
<line x1="263.90" y1="897.70" x2="263.90" y2="909.00" stroke="#111" stroke-width="1.5"/>
<line x1="296.81" y1="897.70" x2="296.81" y2="909.00" stroke="#111" stroke-width="1.5"/>
<text x="99.33" y="937.70" text-anchor="middle" class="tl">0</text>
<text x="165.16" y="937.70" text-anchor="middle" class="tl">200</text>
<text x="230.99" y="937.70" text-anchor="middle" class="tl">400</text>
<text x="296.81" y="937.70" text-anchor="middle" class="tl">600</text>
<line x1="80.10" y1="889.48" x2="91.10" y2="889.48" stroke="#111" stroke-width="1.5"/>
<line x1="80.10" y1="856.58" x2="91.10" y2="856.58" stroke="#111" stroke-width="1.5"/>
<line x1="80.10" y1="823.68" x2="91.10" y2="823.68" stroke="#111" stroke-width="1.5"/>
<line x1="80.10" y1="790.78" x2="91.10" y2="790.78" stroke="#111" stroke-width="1.5"/>
<line x1="80.10" y1="757.88" x2="91.10" y2="757.88" stroke="#111" stroke-width="1.5"/>
<line x1="80.10" y1="724.98" x2="91.10" y2="724.98" stroke="#111" stroke-width="1.5"/>
<line x1="80.10" y1="692.08" x2="91.10" y2="692.08" stroke="#111" stroke-width="1.5"/>
<text transform="translate(66.00,889.48) rotate(-90)" text-anchor="middle" class="tl">0</text>
<text transform="translate(66.00,823.68) rotate(-90)" text-anchor="middle" class="tl">200</text>
<text transform="translate(66.00,757.88) rotate(-90)" text-anchor="middle" class="tl">400</text>
<text transform="translate(66.00,692.08) rotate(-90)" text-anchor="middle" class="tl">600</text>
<text transform="translate(15.10,782.55) rotate(-90)" text-anchor="middle" class="al">Predicted <tspan class="dl">Δ</tspan>f<tspan class="sub" dy="3.7">ps</tspan></text>
<circle cx="166.9" cy="745.6" r="3.8"/>
<circle cx="202.6" cy="751.1" r="3.8"/>
<circle cx="191.4" cy="755.3" r="3.8"/>
<circle cx="193.4" cy="757.3" r="3.8"/>
<circle cx="195.9" cy="762.9" r="3.8"/>
<circle cx="158.2" cy="760.0" r="3.8"/>
<circle cx="161.5" cy="761.2" r="3.8"/>
<circle cx="170.7" cy="760.0" r="3.8"/>
<circle cx="163.2" cy="765.4" r="3.8"/>
<circle cx="160.7" cy="769.6" r="3.8"/>
<circle cx="167.4" cy="770.1" r="3.8"/>
<circle cx="164.9" cy="775.5" r="3.8"/>
<circle cx="168.2" cy="777.2" r="3.8"/>
<circle cx="173.3" cy="780.5" r="3.8"/>
<circle cx="155.6" cy="778.8" r="3.8"/>
<circle cx="182.5" cy="767.1" r="3.8"/>
<circle cx="186.7" cy="770.4" r="3.8"/>
<circle cx="178.3" cy="774.6" r="3.8"/>
<circle cx="181.7" cy="778.8" r="3.8"/>
<circle cx="202.6" cy="767.1" r="3.8"/>
<circle cx="200.1" cy="773.8" r="3.8"/>
<circle cx="202.6" cy="774.6" r="3.8"/>
<circle cx="131.3" cy="779.2" r="3.8"/>
<circle cx="136.0" cy="782.2" r="3.8"/>
<circle cx="141.0" cy="778.5" r="3.8"/>
<circle cx="138.8" cy="785.5" r="3.8"/>
<circle cx="117.0" cy="788.9" r="3.8"/>
<circle cx="152.3" cy="791.9" r="3.8"/>
<circle cx="159.0" cy="790.2" r="3.8"/>
<circle cx="174.9" cy="788.1" r="3.8"/>
<circle cx="185.0" cy="788.9" r="3.8"/>
<circle cx="187.5" cy="791.4" r="3.8"/>
<circle cx="190.9" cy="790.6" r="3.8"/>
<circle cx="195.1" cy="790.6" r="3.8"/>
<circle cx="201.8" cy="788.9" r="3.8"/>
<circle cx="107.8" cy="804.0" r="3.8"/>
<circle cx="110.3" cy="804.9" r="3.8"/>
<circle cx="113.7" cy="807.0" r="3.8"/>
<circle cx="106.1" cy="805.4" r="3.8"/>
<circle cx="124.6" cy="804.9" r="3.8"/>
<circle cx="131.3" cy="807.0" r="3.8"/>
<circle cx="134.6" cy="801.5" r="3.8"/>
<circle cx="139.7" cy="803.2" r="3.8"/>
<circle cx="142.2" cy="805.7" r="3.8"/>
<circle cx="146.4" cy="802.0" r="3.8"/>
<circle cx="150.6" cy="801.5" r="3.8"/>
<circle cx="148.9" cy="805.7" r="3.8"/>
<circle cx="159.8" cy="800.7" r="3.8"/>
<circle cx="164.9" cy="799.0" r="3.8"/>
<circle cx="161.5" cy="804.0" r="3.8"/>
<circle cx="156.5" cy="808.2" r="3.8"/>
<circle cx="159.8" cy="809.1" r="3.8"/>
<circle cx="163.2" cy="808.2" r="3.8"/>
<circle cx="164.9" cy="810.7" r="3.8"/>
<circle cx="125.4" cy="813.2" r="3.8"/>
<circle cx="129.6" cy="814.1" r="3.8"/>
<circle cx="136.3" cy="814.9" r="3.8"/>
<circle cx="144.7" cy="812.4" r="3.8"/>
<circle cx="148.9" cy="814.1" r="3.8"/>
<circle cx="141.4" cy="809.9" r="3.8"/>
<circle cx="161.5" cy="814.9" r="3.8"/>
<circle cx="169.1" cy="815.4" r="3.8"/>
<circle cx="173.3" cy="814.4" r="3.8"/>
<circle cx="174.9" cy="804.0" r="3.8"/>
<circle cx="185.0" cy="801.5" r="3.8"/>
<circle cx="193.4" cy="801.5" r="3.8"/>
<circle cx="192.6" cy="806.5" r="3.8"/>
<circle cx="202.6" cy="804.9" r="3.8"/>
<circle cx="182.5" cy="812.4" r="3.8"/>
<circle cx="187.5" cy="810.7" r="3.8"/>
<circle cx="202.6" cy="811.6" r="3.8"/>
<circle cx="194.2" cy="815.8" r="3.8"/>
<circle cx="198.4" cy="815.8" r="3.8"/>
<circle cx="202.6" cy="817.4" r="3.8"/>
<circle cx="100.2" cy="815.8" r="3.8"/>
<circle cx="109.5" cy="816.9" r="3.8"/>
<circle cx="107.8" cy="825.0" r="3.8"/>
<circle cx="142.2" cy="822.5" r="3.8"/>
<circle cx="143.0" cy="825.8" r="3.8"/>
<circle cx="134.6" cy="829.2" r="3.8"/>
<circle cx="161.5" cy="825.8" r="3.8"/>
<circle cx="164.9" cy="821.6" r="3.8"/>
<circle cx="194.2" cy="824.2" r="3.8"/>
<circle cx="198.4" cy="824.2" r="3.8"/>
<circle cx="192.6" cy="829.5" r="3.8"/>
<circle cx="124.2" cy="837.3" r="3.8"/>
<circle cx="153.1" cy="835.9" r="3.8"/>
<circle cx="155.6" cy="836.8" r="3.8"/>
<circle cx="178.3" cy="837.3" r="3.8"/>
<circle cx="133.0" cy="848.0" r="3.8"/>
<circle cx="138.0" cy="848.0" r="3.8"/>
<circle cx="172.4" cy="848.0" r="3.8"/>
<circle cx="202.6" cy="845.6" r="3.8"/>
<circle cx="124.6" cy="881.6" r="3.8"/>
<circle cx="151.1" cy="881.6" r="3.8"/>
<circle cx="214.2" cy="750.1" r="3.8"/>
<circle cx="249.0" cy="758.4" r="3.8"/>
<circle cx="229.4" cy="760.8" r="3.8"/>
<circle cx="232.9" cy="761.6" r="3.8"/>
<circle cx="210.7" cy="764.3" r="3.8"/>
<circle cx="214.2" cy="763.4" r="3.8"/>
<circle cx="223.2" cy="767.0" r="3.8"/>
<circle cx="228.5" cy="768.8" r="3.8"/>
<circle cx="230.3" cy="772.3" r="3.8"/>
<circle cx="226.7" cy="774.1" r="3.8"/>
<circle cx="228.5" cy="776.8" r="3.8"/>
<circle cx="225.8" cy="779.5" r="3.8"/>
<circle cx="229.4" cy="780.4" r="3.8"/>
<circle cx="226.7" cy="783.0" r="3.8"/>
<circle cx="230.3" cy="784.8" r="3.8"/>
<circle cx="232.9" cy="783.0" r="3.8"/>
<circle cx="234.7" cy="772.3" r="3.8"/>
<circle cx="237.4" cy="765.2" r="3.8"/>
<circle cx="240.1" cy="767.0" r="3.8"/>
<circle cx="242.7" cy="768.8" r="3.8"/>
<circle cx="245.4" cy="771.4" r="3.8"/>
<circle cx="241.9" cy="775.9" r="3.8"/>
<circle cx="253.4" cy="768.8" r="3.8"/>
<circle cx="262.3" cy="763.4" r="3.8"/>
<circle cx="261.4" cy="767.0" r="3.8"/>
<circle cx="265.0" cy="768.8" r="3.8"/>
<circle cx="271.2" cy="761.6" r="3.8"/>
<circle cx="273.0" cy="767.0" r="3.8"/>
<circle cx="274.8" cy="770.6" r="3.8"/>
<circle cx="271.2" cy="772.3" r="3.8"/>
<circle cx="274.8" cy="775.9" r="3.8"/>
<circle cx="280.1" cy="759.9" r="3.8"/>
<circle cx="279.3" cy="767.0" r="3.8"/>
<circle cx="287.3" cy="772.3" r="3.8"/>
<circle cx="289.1" cy="774.1" r="3.8"/>
<circle cx="294.4" cy="767.0" r="3.8"/>
<circle cx="297.1" cy="763.4" r="3.8"/>
<circle cx="308.6" cy="767.9" r="3.8"/>
<circle cx="312.2" cy="777.7" r="3.8"/>
<circle cx="208.9" cy="770.6" r="3.8"/>
<circle cx="210.7" cy="775.9" r="3.8"/>
<circle cx="216.0" cy="774.1" r="3.8"/>
<circle cx="217.8" cy="777.7" r="3.8"/>
<circle cx="214.2" cy="781.2" r="3.8"/>
<circle cx="217.8" cy="784.8" r="3.8"/>
<circle cx="210.7" cy="783.9" r="3.8"/>
<circle cx="214.2" cy="788.4" r="3.8"/>
<circle cx="217.8" cy="792.8" r="3.8"/>
<circle cx="208.9" cy="791.0" r="3.8"/>
<circle cx="210.7" cy="795.5" r="3.8"/>
<circle cx="216.0" cy="799.9" r="3.8"/>
<circle cx="207.1" cy="786.6" r="3.8"/>
<circle cx="228.5" cy="789.3" r="3.8"/>
<circle cx="235.6" cy="791.0" r="3.8"/>
<circle cx="232.1" cy="799.1" r="3.8"/>
<circle cx="253.4" cy="782.1" r="3.8"/>
<circle cx="261.4" cy="780.4" r="3.8"/>
<circle cx="266.8" cy="786.9" r="3.8"/>
<circle cx="255.2" cy="800.8" r="3.8"/>
<circle cx="254.3" cy="808.8" r="3.8"/>
<circle cx="263.2" cy="808.0" r="3.8"/>
<circle cx="257.9" cy="816.5" r="3.8"/>
<circle cx="278.4" cy="819.0" r="3.8"/>
<circle cx="225.8" cy="808.0" r="3.8"/>
<circle cx="226.7" cy="806.2" r="3.8"/>
<circle cx="207.1" cy="812.4" r="3.8"/>
<circle cx="230.3" cy="832.9" r="3.8"/>
<circle cx="228.5" cy="772.0" r="3.8"/>
<circle cx="228.0" cy="774.5" r="3.8"/>
<circle cx="229.0" cy="777.0" r="3.8"/>
<circle cx="228.3" cy="779.5" r="3.8"/>
<circle cx="229.2" cy="782.0" r="3.8"/>
<circle cx="227.6" cy="776.0" r="3.8"/>
<circle cx="229.8" cy="774.0" r="3.8"/>
<circle cx="228.8" cy="780.5" r="3.8"/>
<circle cx="208.5" cy="782.0" r="3.8"/>
<circle cx="212.0" cy="787.0" r="3.8"/>
<circle cx="215.5" cy="780.0" r="3.8"/>
<circle cx="211.0" cy="793.0" r="3.8"/>
<circle cx="244.0" cy="766.0" r="3.8"/>
<circle cx="246.0" cy="770.0" r="3.8"/>
<circle cx="242.0" cy="772.0" r="3.8"/>
<circle cx="261.6" cy="766.4" r="3.8"/>
<circle cx="263.5" cy="768.5" r="3.8"/>
<path d="M452.70,669.20H682.90" stroke="#111" stroke-width="1.25" stroke-linecap="square"/>
<path d="M452.70,899.40H682.90" stroke="#111" stroke-width="1.4" stroke-linecap="square"/>
<path d="M452.70,669.20V899.40" stroke="#111" stroke-width="1.4" stroke-linecap="square"/>
<path d="M682.90,669.20V899.40" stroke="#111" stroke-width="1.75" stroke-linecap="square"/>
<line x1="452.70" y1="899.40" x2="682.90" y2="669.20" stroke="#111" stroke-width="1.6"/>
<line x1="479.19" y1="899.40" x2="479.19" y2="910.70" stroke="#111" stroke-width="1.5"/>
<line x1="514.74" y1="899.40" x2="514.74" y2="910.70" stroke="#111" stroke-width="1.5"/>
<line x1="550.29" y1="899.40" x2="550.29" y2="910.70" stroke="#111" stroke-width="1.5"/>
<line x1="585.84" y1="899.40" x2="585.84" y2="910.70" stroke="#111" stroke-width="1.5"/>
<line x1="621.39" y1="899.40" x2="621.39" y2="910.70" stroke="#111" stroke-width="1.5"/>
<line x1="656.95" y1="899.40" x2="656.95" y2="910.70" stroke="#111" stroke-width="1.5"/>
<text x="479.19" y="939.40" text-anchor="middle" class="tl">200</text>
<text x="550.29" y="939.40" text-anchor="middle" class="tl">600</text>
<text x="621.39" y="939.40" text-anchor="middle" class="tl">1000</text>
<line x1="441.70" y1="872.91" x2="452.70" y2="872.91" stroke="#111" stroke-width="1.5"/>
<line x1="441.70" y1="837.36" x2="452.70" y2="837.36" stroke="#111" stroke-width="1.5"/>
<line x1="441.70" y1="801.81" x2="452.70" y2="801.81" stroke="#111" stroke-width="1.5"/>
<line x1="441.70" y1="766.26" x2="452.70" y2="766.26" stroke="#111" stroke-width="1.5"/>
<line x1="441.70" y1="730.71" x2="452.70" y2="730.71" stroke="#111" stroke-width="1.5"/>
<line x1="441.70" y1="695.15" x2="452.70" y2="695.15" stroke="#111" stroke-width="1.5"/>
<text transform="translate(427.00,872.91) rotate(-90)" text-anchor="middle" class="tl">200</text>
<text transform="translate(427.00,801.81) rotate(-90)" text-anchor="middle" class="tl">600</text>
<text transform="translate(427.00,730.71) rotate(-90)" text-anchor="middle" class="tl">1000</text>
<text transform="translate(376.70,784.30) rotate(-90)" text-anchor="middle" class="al">Predicted <tspan class="dl">Δ</tspan>f<tspan class="sub" dy="3.7">ps</tspan></text>
<circle cx="530.3" cy="779.6" r="3.8"/>
<circle cx="552.7" cy="786.3" r="3.8"/>
<circle cx="544.0" cy="789.8" r="3.8"/>
<circle cx="542.2" cy="792.4" r="3.8"/>
<circle cx="511.2" cy="795.0" r="3.8"/>
<circle cx="527.7" cy="796.8" r="3.8"/>
<circle cx="520.3" cy="799.9" r="3.8"/>
<circle cx="494.0" cy="801.7" r="3.8"/>
<circle cx="496.7" cy="808.7" r="3.8"/>
<circle cx="504.2" cy="805.2" r="3.8"/>
<circle cx="508.1" cy="805.5" r="3.8"/>
<circle cx="509.8" cy="806.9" r="3.8"/>
<circle cx="507.2" cy="810.8" r="3.8"/>
<circle cx="508.9" cy="809.1" r="3.8"/>
<circle cx="523.8" cy="808.2" r="3.8"/>
<circle cx="522.9" cy="810.8" r="3.8"/>
<circle cx="531.7" cy="806.4" r="3.8"/>
<circle cx="515.1" cy="814.3" r="3.8"/>
<circle cx="518.6" cy="813.4" r="3.8"/>
<circle cx="519.4" cy="811.7" r="3.8"/>
<circle cx="527.3" cy="819.6" r="3.8"/>
<circle cx="529.1" cy="818.7" r="3.8"/>
<circle cx="474.4" cy="823.1" r="3.8"/>
<circle cx="497.2" cy="823.1" r="3.8"/>
<circle cx="504.2" cy="823.1" r="3.8"/>
<circle cx="510.7" cy="830.4" r="3.8"/>
<circle cx="515.9" cy="837.1" r="3.8"/>
<circle cx="488.8" cy="838.5" r="3.8"/>
<circle cx="489.7" cy="844.1" r="3.8"/>
<circle cx="491.4" cy="845.0" r="3.8"/>
<circle cx="493.2" cy="844.1" r="3.8"/>
<circle cx="487.9" cy="845.8" r="3.8"/>
<circle cx="482.7" cy="846.2" r="3.8"/>
<circle cx="489.7" cy="849.0" r="3.8"/>
<circle cx="464.3" cy="843.7" r="3.8"/>
<circle cx="464.6" cy="845.0" r="3.8"/>
<circle cx="462.9" cy="850.7" r="3.8"/>
<circle cx="509.8" cy="845.8" r="3.8"/>
<circle cx="515.1" cy="844.1" r="3.8"/>
<circle cx="522.1" cy="842.3" r="3.8"/>
<circle cx="528.2" cy="838.0" r="3.8"/>
<circle cx="530.8" cy="840.6" r="3.8"/>
<circle cx="537.0" cy="838.0" r="3.8"/>
<circle cx="537.8" cy="840.6" r="3.8"/>
<circle cx="539.6" cy="835.3" r="3.8"/>
<circle cx="548.0" cy="838.5" r="3.8"/>
<circle cx="537.0" cy="848.5" r="3.8"/>
<circle cx="527.0" cy="851.1" r="3.8"/>
<circle cx="508.9" cy="851.1" r="3.8"/>
<circle cx="509.8" cy="852.8" r="3.8"/>
<circle cx="508.1" cy="853.7" r="3.8"/>
<circle cx="516.8" cy="856.4" r="3.8"/>
<circle cx="501.9" cy="858.1" r="3.8"/>
<circle cx="491.4" cy="859.0" r="3.8"/>
<circle cx="488.8" cy="864.2" r="3.8"/>
<circle cx="487.0" cy="865.1" r="3.8"/>
<circle cx="462.9" cy="864.8" r="3.8"/>
<circle cx="463.4" cy="865.1" r="3.8"/>
<circle cx="487.0" cy="873.9" r="3.8"/>
<circle cx="513.3" cy="873.9" r="3.8"/>
<circle cx="479.2" cy="882.6" r="3.8"/>
<circle cx="524.7" cy="882.6" r="3.8"/>
<circle cx="597.4" cy="737.5" r="3.8"/>
<circle cx="633.3" cy="736.3" r="3.8"/>
<circle cx="669.8" cy="735.8" r="3.8"/>
<circle cx="678.9" cy="739.6" r="3.8"/>
<circle cx="672.2" cy="746.3" r="3.8"/>
<circle cx="675.0" cy="750.7" r="3.8"/>
<circle cx="587.4" cy="815.8" r="3.8"/>
<circle cx="612.6" cy="812.8" r="3.8"/>
<circle cx="587.4" cy="845.3" r="3.8"/>
<circle cx="612.6" cy="842.6" r="3.8"/>
<path d="M91.10,977.00H321.50" stroke="#111" stroke-width="1.1" stroke-linecap="square"/>
<path d="M91.10,1207.30H321.50" stroke="#111" stroke-width="1.4" stroke-linecap="square"/>
<path d="M91.10,977.00V1207.30" stroke="#111" stroke-width="1.05" stroke-linecap="square"/>
<path d="M321.50,977.00V1207.30" stroke="#111" stroke-width="1.25" stroke-linecap="square"/>
<line x1="91.10" y1="1207.30" x2="321.50" y2="977.00" stroke="#111" stroke-width="1.6"/>
<line x1="99.33" y1="1207.30" x2="99.33" y2="1218.60" stroke="#111" stroke-width="1.5"/>
<line x1="132.24" y1="1207.30" x2="132.24" y2="1218.60" stroke="#111" stroke-width="1.5"/>
<line x1="165.16" y1="1207.30" x2="165.16" y2="1218.60" stroke="#111" stroke-width="1.5"/>
<line x1="198.07" y1="1207.30" x2="198.07" y2="1218.60" stroke="#111" stroke-width="1.5"/>
<line x1="230.99" y1="1207.30" x2="230.99" y2="1218.60" stroke="#111" stroke-width="1.5"/>
<line x1="263.90" y1="1207.30" x2="263.90" y2="1218.60" stroke="#111" stroke-width="1.5"/>
<line x1="296.81" y1="1207.30" x2="296.81" y2="1218.60" stroke="#111" stroke-width="1.5"/>
<text x="99.33" y="1247.30" text-anchor="middle" class="tl">0</text>
<text x="165.16" y="1247.30" text-anchor="middle" class="tl">200</text>
<text x="230.99" y="1247.30" text-anchor="middle" class="tl">400</text>
<text x="296.81" y="1247.30" text-anchor="middle" class="tl">600</text>
<line x1="80.10" y1="1199.08" x2="91.10" y2="1199.08" stroke="#111" stroke-width="1.5"/>
<line x1="80.10" y1="1166.17" x2="91.10" y2="1166.17" stroke="#111" stroke-width="1.5"/>
<line x1="80.10" y1="1133.27" x2="91.10" y2="1133.27" stroke="#111" stroke-width="1.5"/>
<line x1="80.10" y1="1100.38" x2="91.10" y2="1100.38" stroke="#111" stroke-width="1.5"/>
<line x1="80.10" y1="1067.47" x2="91.10" y2="1067.47" stroke="#111" stroke-width="1.5"/>
<line x1="80.10" y1="1034.58" x2="91.10" y2="1034.58" stroke="#111" stroke-width="1.5"/>
<line x1="80.10" y1="1001.67" x2="91.10" y2="1001.67" stroke="#111" stroke-width="1.5"/>
<text transform="translate(66.00,1199.08) rotate(-90)" text-anchor="middle" class="tl">0</text>
<text transform="translate(66.00,1133.27) rotate(-90)" text-anchor="middle" class="tl">200</text>
<text transform="translate(66.00,1067.47) rotate(-90)" text-anchor="middle" class="tl">400</text>
<text transform="translate(66.00,1001.67) rotate(-90)" text-anchor="middle" class="tl">600</text>
<text transform="translate(15.10,1092.15) rotate(-90)" text-anchor="middle" class="al">Predicted <tspan class="dl">Δ</tspan>f<tspan class="sub" dy="3.7">ps</tspan></text>
<circle cx="186.7" cy="1054.0" r="3.8"/>
<circle cx="202.6" cy="1052.8" r="3.8"/>
<circle cx="202.6" cy="1066.2" r="3.8"/>
<circle cx="191.7" cy="1076.3" r="3.8"/>
<circle cx="196.4" cy="1073.5" r="3.8"/>
<circle cx="193.4" cy="1081.4" r="3.8"/>
<circle cx="181.7" cy="1081.9" r="3.8"/>
<circle cx="185.0" cy="1083.0" r="3.8"/>
<circle cx="183.0" cy="1087.6" r="3.8"/>
<circle cx="166.5" cy="1083.9" r="3.8"/>
<circle cx="169.9" cy="1086.4" r="3.8"/>
<circle cx="163.2" cy="1088.9" r="3.8"/>
<circle cx="160.7" cy="1092.3" r="3.8"/>
<circle cx="155.6" cy="1093.9" r="3.8"/>
<circle cx="158.2" cy="1093.9" r="3.8"/>
<circle cx="168.2" cy="1093.9" r="3.8"/>
<circle cx="174.9" cy="1097.0" r="3.8"/>
<circle cx="161.5" cy="1098.1" r="3.8"/>
<circle cx="167.4" cy="1100.7" r="3.8"/>
<circle cx="195.1" cy="1093.1" r="3.8"/>
<circle cx="201.8" cy="1088.9" r="3.8"/>
<circle cx="202.6" cy="1085.5" r="3.8"/>
<circle cx="131.0" cy="1090.2" r="3.8"/>
<circle cx="141.4" cy="1093.9" r="3.8"/>
<circle cx="153.1" cy="1105.7" r="3.8"/>
<circle cx="159.8" cy="1103.2" r="3.8"/>
<circle cx="164.0" cy="1107.4" r="3.8"/>
<circle cx="153.1" cy="1114.1" r="3.8"/>
<circle cx="156.5" cy="1113.2" r="3.8"/>
<circle cx="160.7" cy="1117.4" r="3.8"/>
<circle cx="168.2" cy="1110.7" r="3.8"/>
<circle cx="171.6" cy="1112.4" r="3.8"/>
<circle cx="173.3" cy="1114.9" r="3.8"/>
<circle cx="183.3" cy="1107.4" r="3.8"/>
<circle cx="185.0" cy="1105.7" r="3.8"/>
<circle cx="190.1" cy="1107.4" r="3.8"/>
<circle cx="193.4" cy="1104.0" r="3.8"/>
<circle cx="195.9" cy="1104.9" r="3.8"/>
<circle cx="201.0" cy="1104.0" r="3.8"/>
<circle cx="182.5" cy="1110.7" r="3.8"/>
<circle cx="190.1" cy="1114.1" r="3.8"/>
<circle cx="201.8" cy="1112.4" r="3.8"/>
<circle cx="135.5" cy="1115.4" r="3.8"/>
<circle cx="141.4" cy="1118.8" r="3.8"/>
<circle cx="130.5" cy="1125.0" r="3.8"/>
<circle cx="117.0" cy="1126.7" r="3.8"/>
<circle cx="138.8" cy="1126.7" r="3.8"/>
<circle cx="141.4" cy="1124.2" r="3.8"/>
<circle cx="144.7" cy="1125.8" r="3.8"/>
<circle cx="149.8" cy="1127.5" r="3.8"/>
<circle cx="154.0" cy="1130.0" r="3.8"/>
<circle cx="159.8" cy="1125.0" r="3.8"/>
<circle cx="163.2" cy="1125.8" r="3.8"/>
<circle cx="157.3" cy="1130.9" r="3.8"/>
<circle cx="159.8" cy="1135.1" r="3.8"/>
<circle cx="164.9" cy="1135.1" r="3.8"/>
<circle cx="164.9" cy="1138.4" r="3.8"/>
<circle cx="178.3" cy="1120.0" r="3.8"/>
<circle cx="174.9" cy="1128.4" r="3.8"/>
<circle cx="185.0" cy="1124.2" r="3.8"/>
<circle cx="185.9" cy="1127.5" r="3.8"/>
<circle cx="191.7" cy="1128.4" r="3.8"/>
<circle cx="197.6" cy="1130.9" r="3.8"/>
<circle cx="201.8" cy="1130.0" r="3.8"/>
<circle cx="202.6" cy="1134.2" r="3.8"/>
<circle cx="199.3" cy="1137.6" r="3.8"/>
<circle cx="178.3" cy="1135.1" r="3.8"/>
<circle cx="191.7" cy="1135.1" r="3.8"/>
<circle cx="202.6" cy="1139.3" r="3.8"/>
<circle cx="193.4" cy="1144.0" r="3.8"/>
<circle cx="108.6" cy="1135.6" r="3.8"/>
<circle cx="112.8" cy="1139.6" r="3.8"/>
<circle cx="106.9" cy="1144.3" r="3.8"/>
<circle cx="108.6" cy="1150.2" r="3.8"/>
<circle cx="109.5" cy="1151.9" r="3.8"/>
<circle cx="100.2" cy="1152.7" r="3.8"/>
<circle cx="124.6" cy="1149.3" r="3.8"/>
<circle cx="133.0" cy="1148.5" r="3.8"/>
<circle cx="135.5" cy="1139.3" r="3.8"/>
<circle cx="139.7" cy="1139.3" r="3.8"/>
<circle cx="144.7" cy="1140.1" r="3.8"/>
<circle cx="148.1" cy="1140.9" r="3.8"/>
<circle cx="141.4" cy="1146.8" r="3.8"/>
<circle cx="143.0" cy="1149.3" r="3.8"/>
<circle cx="149.8" cy="1154.4" r="3.8"/>
<circle cx="155.6" cy="1151.9" r="3.8"/>
<circle cx="158.2" cy="1144.3" r="3.8"/>
<circle cx="162.4" cy="1150.2" r="3.8"/>
<circle cx="172.4" cy="1149.0" r="3.8"/>
<circle cx="124.6" cy="1161.1" r="3.8"/>
<circle cx="126.3" cy="1160.3" r="3.8"/>
<circle cx="134.6" cy="1160.3" r="3.8"/>
<circle cx="137.2" cy="1161.9" r="3.8"/>
<circle cx="130.5" cy="1157.7" r="3.8"/>
<circle cx="124.6" cy="1173.7" r="3.8"/>
<circle cx="151.1" cy="1173.7" r="3.8"/>
<circle cx="214.2" cy="1016.2" r="3.8"/>
<circle cx="253.4" cy="1015.0" r="3.8"/>
<circle cx="211.6" cy="1030.5" r="3.8"/>
<circle cx="232.9" cy="1041.7" r="3.8"/>
<circle cx="296.2" cy="1037.1" r="3.8"/>
<circle cx="308.3" cy="1048.8" r="3.8"/>
<circle cx="262.3" cy="1047.4" r="3.8"/>
<circle cx="230.3" cy="1052.4" r="3.8"/>
<circle cx="215.1" cy="1054.2" r="3.8"/>
<circle cx="249.0" cy="1053.6" r="3.8"/>
<circle cx="246.3" cy="1058.1" r="3.8"/>
<circle cx="280.1" cy="1055.4" r="3.8"/>
<circle cx="230.3" cy="1061.6" r="3.8"/>
<circle cx="229.4" cy="1067.0" r="3.8"/>
<circle cx="215.1" cy="1066.1" r="3.8"/>
<circle cx="216.9" cy="1069.7" r="3.8"/>
<circle cx="223.2" cy="1070.6" r="3.8"/>
<circle cx="227.6" cy="1068.8" r="3.8"/>
<circle cx="233.8" cy="1065.2" r="3.8"/>
<circle cx="238.3" cy="1066.1" r="3.8"/>
<circle cx="241.9" cy="1067.0" r="3.8"/>
<circle cx="245.4" cy="1066.1" r="3.8"/>
<circle cx="243.6" cy="1062.5" r="3.8"/>
<circle cx="253.4" cy="1064.3" r="3.8"/>
<circle cx="261.4" cy="1059.9" r="3.8"/>
<circle cx="262.3" cy="1062.5" r="3.8"/>
<circle cx="260.6" cy="1060.8" r="3.8"/>
<circle cx="264.1" cy="1073.2" r="3.8"/>
<circle cx="273.0" cy="1062.5" r="3.8"/>
<circle cx="274.8" cy="1063.4" r="3.8"/>
<circle cx="271.2" cy="1068.8" r="3.8"/>
<circle cx="276.6" cy="1067.9" r="3.8"/>
<circle cx="278.4" cy="1067.0" r="3.8"/>
<circle cx="275.7" cy="1075.9" r="3.8"/>
<circle cx="271.2" cy="1078.6" r="3.8"/>
<circle cx="287.3" cy="1068.8" r="3.8"/>
<circle cx="289.1" cy="1069.7" r="3.8"/>
<circle cx="292.6" cy="1065.2" r="3.8"/>
<circle cx="295.3" cy="1065.2" r="3.8"/>
<circle cx="312.2" cy="1068.4" r="3.8"/>
<circle cx="237.4" cy="1072.7" r="3.8"/>
<circle cx="224.9" cy="1077.7" r="3.8"/>
<circle cx="216.9" cy="1080.9" r="3.8"/>
<circle cx="228.5" cy="1081.2" r="3.8"/>
<circle cx="231.2" cy="1082.1" r="3.8"/>
<circle cx="233.8" cy="1083.9" r="3.8"/>
<circle cx="228.5" cy="1086.6" r="3.8"/>
<circle cx="230.3" cy="1090.1" r="3.8"/>
<circle cx="227.6" cy="1092.8" r="3.8"/>
<circle cx="232.9" cy="1093.7" r="3.8"/>
<circle cx="236.5" cy="1092.8" r="3.8"/>
<circle cx="229.4" cy="1098.2" r="3.8"/>
<circle cx="217.8" cy="1088.4" r="3.8"/>
<circle cx="215.1" cy="1091.9" r="3.8"/>
<circle cx="216.9" cy="1093.7" r="3.8"/>
<circle cx="210.7" cy="1090.1" r="3.8"/>
<circle cx="207.1" cy="1088.4" r="3.8"/>
<circle cx="215.1" cy="1100.8" r="3.8"/>
<circle cx="214.2" cy="1104.4" r="3.8"/>
<circle cx="208.0" cy="1108.8" r="3.8"/>
<circle cx="224.9" cy="1103.5" r="3.8"/>
<circle cx="226.7" cy="1105.3" r="3.8"/>
<circle cx="225.8" cy="1114.2" r="3.8"/>
<circle cx="208.0" cy="1119.5" r="3.8"/>
<circle cx="266.8" cy="1097.3" r="3.8"/>
<circle cx="254.3" cy="1106.2" r="3.8"/>
<circle cx="254.3" cy="1112.4" r="3.8"/>
<circle cx="263.2" cy="1111.2" r="3.8"/>
<circle cx="257.9" cy="1128.4" r="3.8"/>
<circle cx="278.7" cy="1127.2" r="3.8"/>
<circle cx="230.3" cy="1145.0" r="3.8"/>
<circle cx="222.0" cy="1001.9" r="3.8"/>
<circle cx="241.7" cy="1002.8" r="3.8"/>
<circle cx="230.0" cy="1081.9" r="3.8"/>
<circle cx="231.8" cy="1086.3" r="3.8"/>
<circle cx="228.3" cy="1093.3" r="3.8"/>
<circle cx="233.5" cy="1093.3" r="3.8"/>
<circle cx="215.1" cy="1089.8" r="3.8"/>
<circle cx="209.9" cy="1088.0" r="3.8"/>
<circle cx="216.9" cy="1094.2" r="3.8"/>
<circle cx="230.0" cy="1063.5" r="3.8"/>
<circle cx="244.0" cy="1067.0" r="3.8"/>
<circle cx="141.2" cy="1124.9" r="3.8"/>
<circle cx="143.8" cy="1127.5" r="3.8"/>
<circle cx="147.3" cy="1129.3" r="3.8"/>
<circle cx="141.2" cy="1130.1" r="3.8"/>
<circle cx="137.7" cy="1127.5" r="3.8"/>
<circle cx="140.3" cy="1136.3" r="3.8"/>
<circle cx="139.4" cy="1144.2" r="3.8"/>
<circle cx="145.5" cy="1143.3" r="3.8"/>
<circle cx="143.2" cy="1150.5" r="3.8"/>
<circle cx="153.5" cy="1150.5" r="3.8"/>
<circle cx="157.0" cy="1152.0" r="3.8"/>
<path d="M452.70,979.10H682.90" stroke="#111" stroke-width="1.25" stroke-linecap="square"/>
<path d="M452.70,1209.30H682.90" stroke="#111" stroke-width="1.4" stroke-linecap="square"/>
<path d="M452.70,979.10V1209.30" stroke="#111" stroke-width="1.4" stroke-linecap="square"/>
<path d="M682.90,979.10V1209.30" stroke="#111" stroke-width="1.75" stroke-linecap="square"/>
<line x1="452.70" y1="1209.30" x2="682.90" y2="979.10" stroke="#111" stroke-width="1.6"/>
<line x1="479.19" y1="1209.30" x2="479.19" y2="1220.60" stroke="#111" stroke-width="1.5"/>
<line x1="514.74" y1="1209.30" x2="514.74" y2="1220.60" stroke="#111" stroke-width="1.5"/>
<line x1="550.29" y1="1209.30" x2="550.29" y2="1220.60" stroke="#111" stroke-width="1.5"/>
<line x1="585.84" y1="1209.30" x2="585.84" y2="1220.60" stroke="#111" stroke-width="1.5"/>
<line x1="621.39" y1="1209.30" x2="621.39" y2="1220.60" stroke="#111" stroke-width="1.5"/>
<line x1="656.95" y1="1209.30" x2="656.95" y2="1220.60" stroke="#111" stroke-width="1.5"/>
<text x="479.19" y="1249.30" text-anchor="middle" class="tl">200</text>
<text x="550.29" y="1249.30" text-anchor="middle" class="tl">600</text>
<text x="621.39" y="1249.30" text-anchor="middle" class="tl">1000</text>
<line x1="441.70" y1="1182.81" x2="452.70" y2="1182.81" stroke="#111" stroke-width="1.5"/>
<line x1="441.70" y1="1147.26" x2="452.70" y2="1147.26" stroke="#111" stroke-width="1.5"/>
<line x1="441.70" y1="1111.71" x2="452.70" y2="1111.71" stroke="#111" stroke-width="1.5"/>
<line x1="441.70" y1="1076.16" x2="452.70" y2="1076.16" stroke="#111" stroke-width="1.5"/>
<line x1="441.70" y1="1040.61" x2="452.70" y2="1040.61" stroke="#111" stroke-width="1.5"/>
<line x1="441.70" y1="1005.05" x2="452.70" y2="1005.05" stroke="#111" stroke-width="1.5"/>
<text transform="translate(427.00,1182.81) rotate(-90)" text-anchor="middle" class="tl">200</text>
<text transform="translate(427.00,1111.71) rotate(-90)" text-anchor="middle" class="tl">600</text>
<text transform="translate(427.00,1040.61) rotate(-90)" text-anchor="middle" class="tl">1000</text>
<text transform="translate(376.70,1094.20) rotate(-90)" text-anchor="middle" class="al">Predicted <tspan class="dl">Δ</tspan>f<tspan class="sub" dy="3.7">ps</tspan></text>
<circle cx="530.3" cy="1097.3" r="3.8"/>
<circle cx="542.7" cy="1107.6" r="3.8"/>
<circle cx="553.3" cy="1112.0" r="3.8"/>
<circle cx="489.1" cy="1119.2" r="3.8"/>
<circle cx="495.4" cy="1127.4" r="3.8"/>
<circle cx="494.0" cy="1128.7" r="3.8"/>
<circle cx="496.7" cy="1129.7" r="3.8"/>
<circle cx="474.4" cy="1138.8" r="3.8"/>
<circle cx="497.2" cy="1138.8" r="3.8"/>
<circle cx="503.7" cy="1130.9" r="3.8"/>
<circle cx="504.6" cy="1138.5" r="3.8"/>
<circle cx="508.9" cy="1123.9" r="3.8"/>
<circle cx="510.7" cy="1125.7" r="3.8"/>
<circle cx="509.8" cy="1127.4" r="3.8"/>
<circle cx="512.4" cy="1124.8" r="3.8"/>
<circle cx="518.6" cy="1122.2" r="3.8"/>
<circle cx="522.9" cy="1123.9" r="3.8"/>
<circle cx="523.8" cy="1125.7" r="3.8"/>
<circle cx="522.1" cy="1129.2" r="3.8"/>
<circle cx="529.1" cy="1127.4" r="3.8"/>
<circle cx="531.7" cy="1131.5" r="3.8"/>
<circle cx="509.8" cy="1134.5" r="3.8"/>
<circle cx="515.1" cy="1135.3" r="3.8"/>
<circle cx="517.7" cy="1137.1" r="3.8"/>
<circle cx="520.3" cy="1133.6" r="3.8"/>
<circle cx="515.9" cy="1140.6" r="3.8"/>
<circle cx="510.7" cy="1145.0" r="3.8"/>
<circle cx="525.6" cy="1138.0" r="3.8"/>
<circle cx="527.3" cy="1140.6" r="3.8"/>
<circle cx="529.1" cy="1138.8" r="3.8"/>
<circle cx="537.8" cy="1144.1" r="3.8"/>
<circle cx="537.0" cy="1147.6" r="3.8"/>
<circle cx="536.1" cy="1149.3" r="3.8"/>
<circle cx="539.6" cy="1149.3" r="3.8"/>
<circle cx="530.0" cy="1149.3" r="3.8"/>
<circle cx="544.5" cy="1130.4" r="3.8"/>
<circle cx="548.0" cy="1140.9" r="3.8"/>
<circle cx="501.9" cy="1152.5" r="3.8"/>
<circle cx="515.9" cy="1151.1" r="3.8"/>
<circle cx="513.3" cy="1155.5" r="3.8"/>
<circle cx="489.7" cy="1151.1" r="3.8"/>
<circle cx="487.0" cy="1154.6" r="3.8"/>
<circle cx="482.7" cy="1158.1" r="3.8"/>
<circle cx="479.2" cy="1161.3" r="3.8"/>
<circle cx="489.7" cy="1160.7" r="3.8"/>
<circle cx="509.8" cy="1163.4" r="3.8"/>
<circle cx="508.1" cy="1164.2" r="3.8"/>
<circle cx="508.9" cy="1162.5" r="3.8"/>
<circle cx="524.7" cy="1160.7" r="3.8"/>
<circle cx="527.0" cy="1163.7" r="3.8"/>
<circle cx="516.8" cy="1170.0" r="3.8"/>
<circle cx="462.9" cy="1163.0" r="3.8"/>
<circle cx="464.3" cy="1172.5" r="3.8"/>
<circle cx="463.4" cy="1172.1" r="3.8"/>
<circle cx="490.5" cy="1172.1" r="3.8"/>
<circle cx="491.9" cy="1172.1" r="3.8"/>
<circle cx="492.6" cy="1171.8" r="3.8"/>
<circle cx="462.9" cy="1190.5" r="3.8"/>
<circle cx="488.8" cy="1190.5" r="3.8"/>
<circle cx="490.2" cy="1190.5" r="3.8"/>
<circle cx="597.4" cy="1002.3" r="3.8"/>
<circle cx="633.3" cy="1028.1" r="3.8"/>
<circle cx="669.8" cy="999.7" r="3.8"/>
<circle cx="675.0" cy="1015.8" r="3.8"/>
<circle cx="678.9" cy="1031.2" r="3.8"/>
<circle cx="672.2" cy="1037.7" r="3.8"/>
<circle cx="587.4" cy="1122.3" r="3.8"/>
<circle cx="612.6" cy="1119.1" r="3.8"/>
<circle cx="587.4" cy="1146.8" r="3.8"/>
<circle cx="612.6" cy="1144.0" r="3.8"/>
<text x="7.6" y="53.3" class="let">a</text>
<text x="7.6" y="365.9" class="let">b</text>
<text x="7.6" y="681.2" class="let">c</text>
<text x="5.0" y="983.6" class="let">d</text>
<text x="378.9" y="53.4" class="let">a</text>
<text x="378.9" y="365.5" class="let">b</text>
<text x="378.9" y="681.3" class="let">c</text>
<text x="376.0" y="984.0" class="let">d</text>
<text x="114.1" y="1285.5" class="al">Measured <tspan class="dl">Δ</tspan>f<tspan class="sub" dy="3.7">ps</tspan><tspan dy="-3.7"> (in MPa)</tspan></text>
<text x="474.8" y="1288.3" class="al">Measured <tspan class="dl">Δ</tspan>f<tspan class="sub" dy="3.7">ps</tspan><tspan dy="-3.7"> (in MPa)</tspan></text>
</svg></body></html>
